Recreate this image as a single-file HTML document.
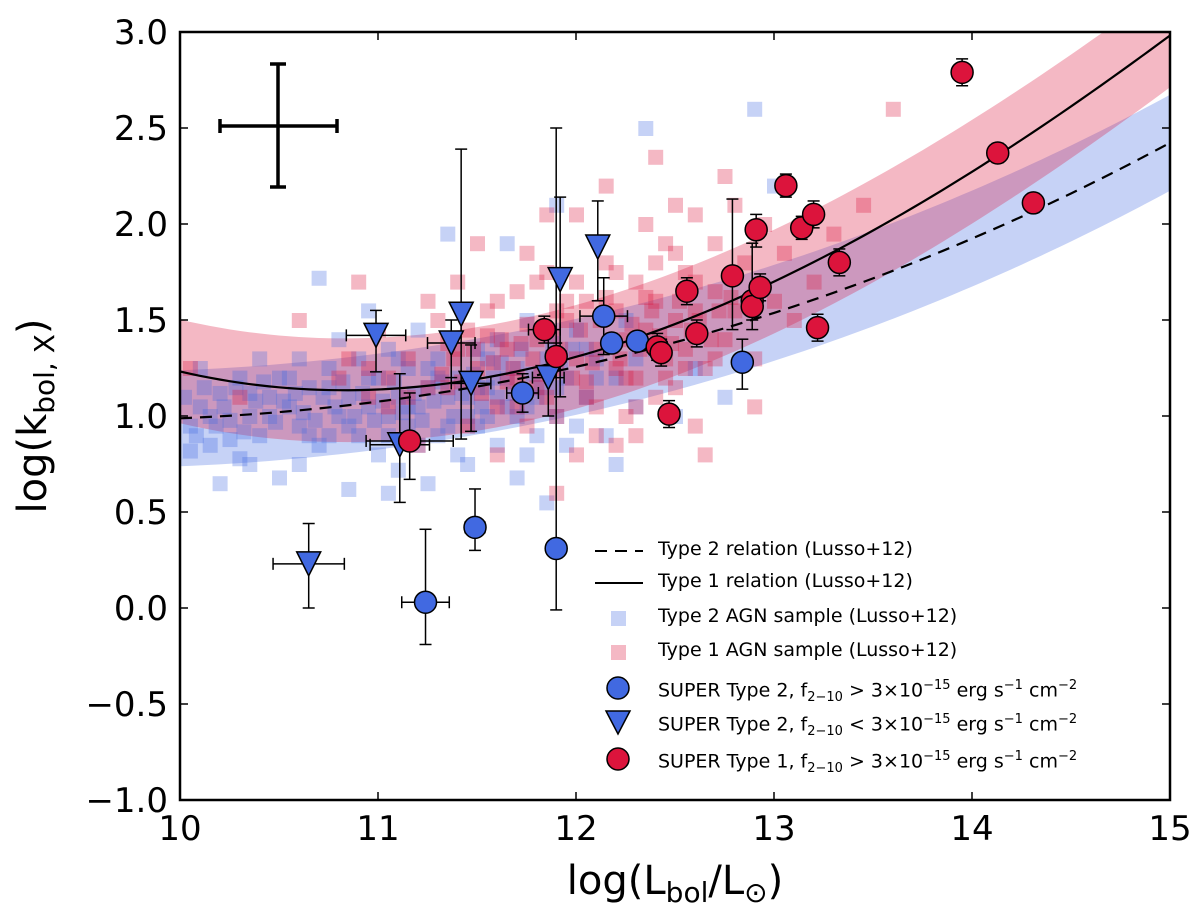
<!DOCTYPE html>
<html><head><meta charset="utf-8"><style>
html,body{margin:0;padding:0;background:#fff;width:1200px;height:912px;overflow:hidden}
svg{font-family:"DejaVu Sans","Liberation Sans",sans-serif}
</style></head><body>
<svg id="chart" width="1200" height="912" viewBox="0 0 1200 912">
<defs><clipPath id="pc"><rect x="180" y="32" width="990" height="768"/></clipPath></defs>
<g id="bands" clip-path="url(#pc)"></g>
<g id="squares" clip-path="url(#pc)"></g>
<g id="curves" clip-path="url(#pc)"></g>
<g id="marks"></g>
<g id="axes"></g>
<g id="legend"></g>
</svg>
<script>
const xTicks=[10,11,12,13,14,15];
const yTicks=[-1.0,-0.5,0.0,0.5,1.0,1.5,2.0,2.5,3.0];
const type2Sample=[[10.05,0.95],[10.1,1.05],[10.15,0.85],[10.2,1.12],[10.25,0.98],[10.3,0.78],[10.3,1.2],[10.35,1.0],[10.4,0.9],[10.45,1.1],[10.5,1.2],[10.5,0.68],[10.55,1.05],[10.6,0.95],[10.6,1.3],[10.65,1.15],[10.7,1.72],[10.7,0.85],[10.75,1.25],[10.8,1.0],[10.8,1.4],[10.85,1.1],[10.9,0.9],[10.9,1.3],[10.95,1.55],[10.95,1.05],[11.0,0.8],[11.0,1.2],[11.05,1.0],[11.05,1.35],[11.1,0.72],[11.1,1.1],[11.15,1.25],[11.15,0.95],[11.2,1.45],[11.2,1.05],[11.25,0.65],[11.25,1.15],[11.3,1.3],[11.3,0.9],[11.35,1.95],[11.35,1.1],[11.4,1.2],[11.4,0.8],[11.45,1.0],[11.5,1.35],[11.5,0.95],[11.55,1.15],[11.6,1.4],[11.6,0.85],[11.65,1.05],[11.7,1.25],[11.7,0.68],[11.75,1.5],[11.8,1.1],[11.8,0.9],[11.85,1.3],[11.9,2.1],[11.9,1.0],[11.95,1.2],[12.0,1.45],[12.0,0.95],[12.05,1.1],[12.1,1.3],[12.15,0.9],[12.2,1.2],[12.25,1.5],[12.3,1.05],[12.35,2.5],[12.4,1.35],[12.5,1.0],[12.6,1.25],[12.75,1.1],[12.9,2.6],[13.0,2.2],[10.2,0.65],[10.4,1.3],[10.6,0.75],[10.85,0.62],[11.05,0.6],[11.45,0.75],[11.55,1.3],[11.65,1.9],[11.75,0.8],[11.85,0.55],[10.1,1.25],[10.35,0.75],[10.75,0.9],[11.2,0.85],[11.6,1.1],[11.95,0.85],[12.2,0.75],
[10.02,1.1],[10.08,0.9],[10.12,1.15],[10.18,0.95],[10.22,1.05],[10.28,1.15],[10.32,0.92],[10.38,1.08],[10.42,1.18],[10.48,0.97],[10.52,1.08],[10.58,1.12],[10.62,1.02],[10.68,0.98],[10.72,1.1],[10.78,1.05],[10.82,1.18],[10.88,1.0],[10.92,1.12],[10.98,0.98],[11.02,1.08],[11.08,1.18],[11.12,1.02],[11.18,1.12],[11.22,0.98],[11.28,1.08],[11.32,1.18],[11.38,1.0],[11.42,1.12],[11.48,1.22],[11.52,1.05],[11.58,1.2],[11.62,1.28],[11.68,1.12],[11.72,1.35],[11.78,1.22],[11.82,1.15],[11.88,1.38],[11.92,1.28],[11.98,1.35],[10.55,1.2],[10.65,0.9],[10.75,1.15],[10.85,0.95],[10.95,1.2],[11.05,0.9],[11.15,1.05],[11.25,1.25],[11.35,0.95],[11.45,1.1],[11.55,1.0],[11.65,1.2],[11.75,1.05],[10.45,1.0],[10.35,1.12],[10.25,0.88],[10.15,1.0],[10.05,0.82],[11.1,1.3],[11.3,1.2],[11.5,1.15],[11.7,1.0],[11.9,1.15],[12.1,1.2],[12.05,1.35],[12.3,1.3]];
const type1Sample=[[10.05,1.25],[10.3,1.1],[10.6,1.5],[10.9,1.7],[10.95,1.25],[11.05,1.05],[11.15,1.3],[11.2,0.85],[11.3,1.5],[11.35,1.15],[11.4,1.35],[11.45,0.95],[11.5,1.25],[11.55,1.55],[11.6,1.05],[11.65,1.35],[11.7,1.2],[11.7,1.65],[11.75,0.95],[11.8,1.4],[11.8,1.15],[11.85,1.75],[11.9,1.25],[11.9,1.0],[11.95,1.5],[12.0,1.3],[12.0,2.05],[12.05,1.1],[12.05,1.6],[12.1,1.35],[12.1,0.9],[12.15,1.8],[12.2,1.25],[12.2,1.55],[12.25,1.0],[12.25,1.4],[12.3,1.7],[12.3,1.2],[12.35,2.0],[12.35,1.45],[12.4,1.1],[12.4,1.6],[12.45,1.3],[12.45,1.9],[12.5,1.5],[12.5,1.15],[12.55,1.75],[12.55,1.35],[12.6,2.05],[12.6,1.55],[12.65,1.25],[12.7,1.65],[12.7,1.9],[12.75,1.4],[12.8,2.1],[12.8,1.55],[12.85,1.8],[12.9,1.3],[12.95,2.0],[13.0,1.6],[13.05,1.85],[13.1,1.5],[13.2,1.7],[13.3,1.95],[13.45,2.1],[13.6,2.6],[11.9,0.6],[12.0,0.8],[12.3,0.9],[12.6,0.95],[11.6,0.8],[11.4,1.7],[12.15,2.2],[12.4,2.35],[11.85,2.05],[12.5,2.1],[11.25,1.6],[11.0,1.45],[10.8,1.2],[12.65,0.8],[12.9,1.05],[12.2,0.85],[11.75,1.85],[12.75,2.25],[11.5,1.9],
[11.32,1.22],[11.38,1.3],[11.42,1.18],[11.48,1.35],[11.52,1.12],[11.58,1.28],[11.62,1.4],[11.68,1.25],[11.72,1.38],[11.78,1.3],[11.82,1.22],[11.88,1.42],[11.92,1.35],[11.98,1.2],[12.02,1.45],[12.08,1.28],[12.12,1.5],[12.18,1.38],[12.22,1.3],[12.28,1.48],[12.32,1.35],[12.38,1.55],[12.42,1.42],[12.48,1.38],[12.52,1.6],[12.58,1.45],[12.62,1.5],[12.68,1.4],[12.72,1.55],[12.78,1.62],[11.55,1.42],[11.65,1.18],[11.75,1.48],[11.85,1.1],[11.95,1.6],[12.05,1.18],[12.15,1.62],[12.25,1.2],[12.35,1.62],[12.45,1.2],[12.55,1.25],[11.45,1.45],[11.35,1.38],[11.25,1.15],[11.15,1.1],[11.05,1.2],[10.95,1.1],[10.85,1.3],[11.6,1.6],[11.8,1.7],[12.0,1.7],[12.2,1.75],[12.4,1.8],[12.6,1.7],[12.1,1.05],[12.3,1.05],[11.7,1.05],[11.9,1.55],[12.5,1.85],[12.7,1.3]];
const t1x=[11.16,11.84,11.9,12.41,12.43,12.47,12.56,12.61,12.79,12.89,12.89,12.91,12.93,13.06,13.14,13.2,13.22,13.33,13.95,14.13,14.31];
const t1y=[0.87,1.45,1.31,1.36,1.33,1.01,1.65,1.43,1.73,1.6,1.57,1.97,1.67,2.2,1.98,2.05,1.46,1.8,2.79,2.37,2.11];
const t1lo=[0.67,1.38,1.24,1.29,1.26,0.94,1.58,1.36,1.45,1.45,1.5,1.88,1.6,2.14,1.92,1.98,1.39,1.73,2.72,2.32,2.06];
const t1hi=[1.12,1.52,1.38,1.43,1.4,1.08,1.72,1.5,2.13,1.9,1.64,2.05,1.74,2.26,2.04,2.12,1.53,1.87,2.86,2.42,2.16];
const t1xe=[0.22,0.08,0.05,0.05,0,0,0,0,0,0,0,0.03,0,0,0,0,0,0,0,0,0];
const t2x=[11.24,11.49,11.73,11.9,12.14,12.18,12.31,12.84];
const t2y=[0.03,0.42,1.12,0.31,1.52,1.38,1.39,1.28];
const t2lo=[-0.19,0.3,1.02,-0.01,1.32,1.33,1.35,1.14];
const t2hi=[0.41,0.62,1.22,2.5,1.72,1.43,1.43,1.4];
const t2xe=[0.12,0.05,0.08,0,0.12,0,0,0];
const trx=[10.65,10.99,11.11,11.37,11.42,11.47,11.86,11.92,12.11];
const try_=[0.23,1.42,0.85,1.38,1.53,1.17,1.2,1.71,1.88];
const trlo=[0.0,1.23,0.55,1.2,0.88,0.92,1.0,1.1,1.6];
const trhi=[0.44,1.55,1.22,1.5,2.39,1.37,1.45,2.14,2.12];
const trxe=[0.18,0.15,0.15,0.12,0,0.1,0.08,0,0];
const X=v=>180+(v-10)*198, Y=v=>32+(3-v)*192;
const NS='http://www.w3.org/2000/svg';
function mk(p,t,a){const e=document.createElementNS(NS,t);for(const k in a)e.setAttribute(k,a[k]);p.appendChild(e);return e;}
const f1=l=>{const x=l-12;return 0.288*x+0.111*x*x-0.007*x*x*x+1.308;};
const f2=l=>{const x=l-12;return 0.23*x+0.05*x*x+0.001*x*x*x+1.256;};
const bands=document.getElementById('bands');
function band(f,w,col,name){let up=[],dn=[];for(let l=10;l<=15.001;l+=0.05){up.push(X(l)+','+Y(f(l)+w));dn.unshift(X(l)+','+Y(f(l)-w));}
const p=mk(bands,'polygon',{points:up.concat(dn).join(' '),fill:col,'fill-opacity':0.3});

}
band(f2,0.25,'#4169e1','type2-band');band(f1,0.27,'#dc143c','type1-band');
const sq=document.getElementById('squares');
type2Sample.forEach(d=>{const r=mk(sq,'rect',{x:X(d[0])-7,y:Y(d[1])-7,width:15,height:15,fill:'#4169e1','fill-opacity':0.3});

});
type1Sample.forEach(d=>{const r=mk(sq,'rect',{x:X(d[0])-7,y:Y(d[1])-7,width:15,height:15,fill:'#dc143c','fill-opacity':0.3});

});
const cv=document.getElementById('curves');
function line(f,dash,name){let pts=[];for(let l=10;l<=15.001;l+=0.05)pts.push(X(l)+','+Y(f(l)));const p=mk(cv,'polyline',{points:pts.join(' '),fill:'none',stroke:'#000','stroke-width':2.2});if(dash)p.setAttribute('stroke-dasharray',dash);

}
line(f2,'12 8','type2-relation');line(f1,null,'type1-relation');
const mg=document.getElementById('marks');
function eb(x,y,lo,hi,xe){const g=mk(mg,'g',{stroke:'#000','stroke-width':1.5});
mk(g,'line',{x1:X(x),x2:X(x),y1:Y(lo),y2:Y(hi)});mk(g,'line',{x1:X(x)-6,x2:X(x)+6,y1:Y(lo),y2:Y(lo)});mk(g,'line',{x1:X(x)-6,x2:X(x)+6,y1:Y(hi),y2:Y(hi)});
if(xe>0){mk(g,'line',{x1:X(x-xe),x2:X(x+xe),y1:Y(y),y2:Y(y)});mk(g,'line',{x1:X(x-xe),x2:X(x-xe),y1:Y(y)-6,y2:Y(y)+6});mk(g,'line',{x1:X(x+xe),x2:X(x+xe),y1:Y(y)-6,y2:Y(y)+6});}}
t2x.forEach((x,i)=>eb(x,t2y[i],t2lo[i],t2hi[i],t2xe[i]));
trx.forEach((x,i)=>eb(x,try_[i],trlo[i],trhi[i],trxe[i]));
t1x.forEach((x,i)=>eb(x,t1y[i],t1lo[i],t1hi[i],t1xe[i]));
t2x.forEach((x,i)=>{const c=mk(mg,'circle',{cx:X(x),cy:Y(t2y[i]),r:11,fill:'#4169e1',stroke:'#000','stroke-width':1.5});

});
trx.forEach((x,i)=>{const cx=X(x),cy=Y(try_[i]);const c=mk(mg,'polygon',{points:`${cx-12},${cy-12} ${cx+12},${cy-12} ${cx},${cy+12}`,fill:'#4169e1',stroke:'#000','stroke-width':1.5});

});
t1x.forEach((x,i)=>{const c=mk(mg,'circle',{cx:X(x),cy:Y(t1y[i]),r:11,fill:'#dc143c',stroke:'#000','stroke-width':1.5});

});
const ce=mk(mg,'g',{stroke:'#000','stroke-width':3.5});
mk(ce,'line',{x1:220,x2:337,y1:126,y2:126});mk(ce,'line',{x1:278,x2:278,y1:64,y2:187});
mk(ce,'line',{x1:220,x2:220,y1:119,y2:133});mk(ce,'line',{x1:337,x2:337,y1:119,y2:133});
mk(ce,'line',{x1:270,x2:286,y1:64,y2:64});mk(ce,'line',{x1:270,x2:286,y1:187,y2:187});
const ax=document.getElementById('axes');
mk(ax,'rect',{x:180,y:32,width:990,height:768,fill:'none',stroke:'#000','stroke-width':2.5});
xTicks.forEach(v=>{mk(ax,'line',{x1:X(v),x2:X(v),y1:800,y2:792,stroke:'#000','stroke-width':1.5});mk(ax,'line',{x1:X(v),x2:X(v),y1:32,y2:40,stroke:'#000','stroke-width':1.5});
const t=mk(ax,'text',{x:X(v),y:840,'text-anchor':'middle','font-size':34});t.textContent=v;

});
yTicks.forEach(v=>{mk(ax,'line',{x1:180,x2:188,y1:Y(v),y2:Y(v),stroke:'#000','stroke-width':1.5});mk(ax,'line',{x1:1162,x2:1170,y1:Y(v),y2:Y(v),stroke:'#000','stroke-width':1.5});
const t=mk(ax,'text',{x:168,y:Y(v)+12,'text-anchor':'end','font-size':34});t.textContent=(v<0?'\u2212':'')+Math.abs(v).toFixed(1);

});
let xt=mk(ax,'text',{x:675,y:894,'text-anchor':'middle','font-size':40});xt.innerHTML='log(L<tspan font-size="28" dy="8">bol</tspan><tspan dy="-8">/L</tspan><tspan font-size="28" dy="8">⊙</tspan><tspan dy="-8">)</tspan>';


let yt=mk(ax,'text',{transform:'translate(46,416) rotate(-90)','text-anchor':'middle','font-size':40});yt.innerHTML='log(k<tspan font-size="28" dy="8">bol, X</tspan><tspan dy="-8">)</tspan>';


const lg=document.getElementById('legend');
const L=[['dash','Type 2 relation (Lusso+12)'],['solid','Type 1 relation (Lusso+12)'],['bsq','Type 2 AGN sample (Lusso+12)'],['rsq','Type 1 AGN sample (Lusso+12)'],['bc','SUPER Type 2, f<sub>2\u221210</sub> &gt; 3\u00d710<sup>\u221215</sup> erg s<sup>\u22121</sup> cm<sup>\u22122</sup>'],['bt','SUPER Type 2, f<sub>2\u221210</sub> &lt; 3\u00d710<sup>\u221215</sup> erg s<sup>\u22121</sup> cm<sup>\u22122</sup>'],['rc','SUPER Type 1, f<sub>2\u221210</sub> &gt; 3\u00d710<sup>\u221215</sup> erg s<sup>\u22121</sup> cm<sup>\u22122</sup>']];
const ly=[551,583,618,652,688,722,759];
L.forEach((e,i)=>{const y=ly[i],cx=618;
if(e[0]=='dash')mk(lg,'line',{x1:595,x2:643,y1:y,y2:y,stroke:'#000','stroke-width':2,'stroke-dasharray':'12 8'});
if(e[0]=='solid')mk(lg,'line',{x1:595,x2:643,y1:y,y2:y,stroke:'#000','stroke-width':2});
if(e[0]=='bsq')mk(lg,'rect',{x:cx-7,y:y-7,width:15,height:15,fill:'#4169e1','fill-opacity':0.3});
if(e[0]=='rsq')mk(lg,'rect',{x:cx-7,y:y-7,width:15,height:15,fill:'#dc143c','fill-opacity':0.3});
if(e[0]=='bc')mk(lg,'circle',{cx:cx,cy:y,r:11,fill:'#4169e1',stroke:'#000','stroke-width':1.5});
if(e[0]=='bt')mk(lg,'polygon',{points:`${cx-12},${y-11} ${cx+12},${y-11} ${cx},${y+12}`,fill:'#4169e1',stroke:'#000','stroke-width':1.5});
if(e[0]=='rc')mk(lg,'circle',{cx:cx,cy:y,r:11,fill:'#dc143c',stroke:'#000','stroke-width':1.5});
const fo=mk(lg,'foreignObject',{x:658,y:y-15,width:520,height:32});
fo.innerHTML='<div xmlns="http://www.w3.org/1999/xhtml" style="font:19px \'DejaVu Sans\',\'Liberation Sans\',sans-serif;line-height:26px;white-space:nowrap">'+e[1].replace(/<sub>/g,'<sub style="font-size:13px">').replace(/<sup>/g,'<sup style="font-size:13px">')+'</div>';

});
</script>
</body></html>
